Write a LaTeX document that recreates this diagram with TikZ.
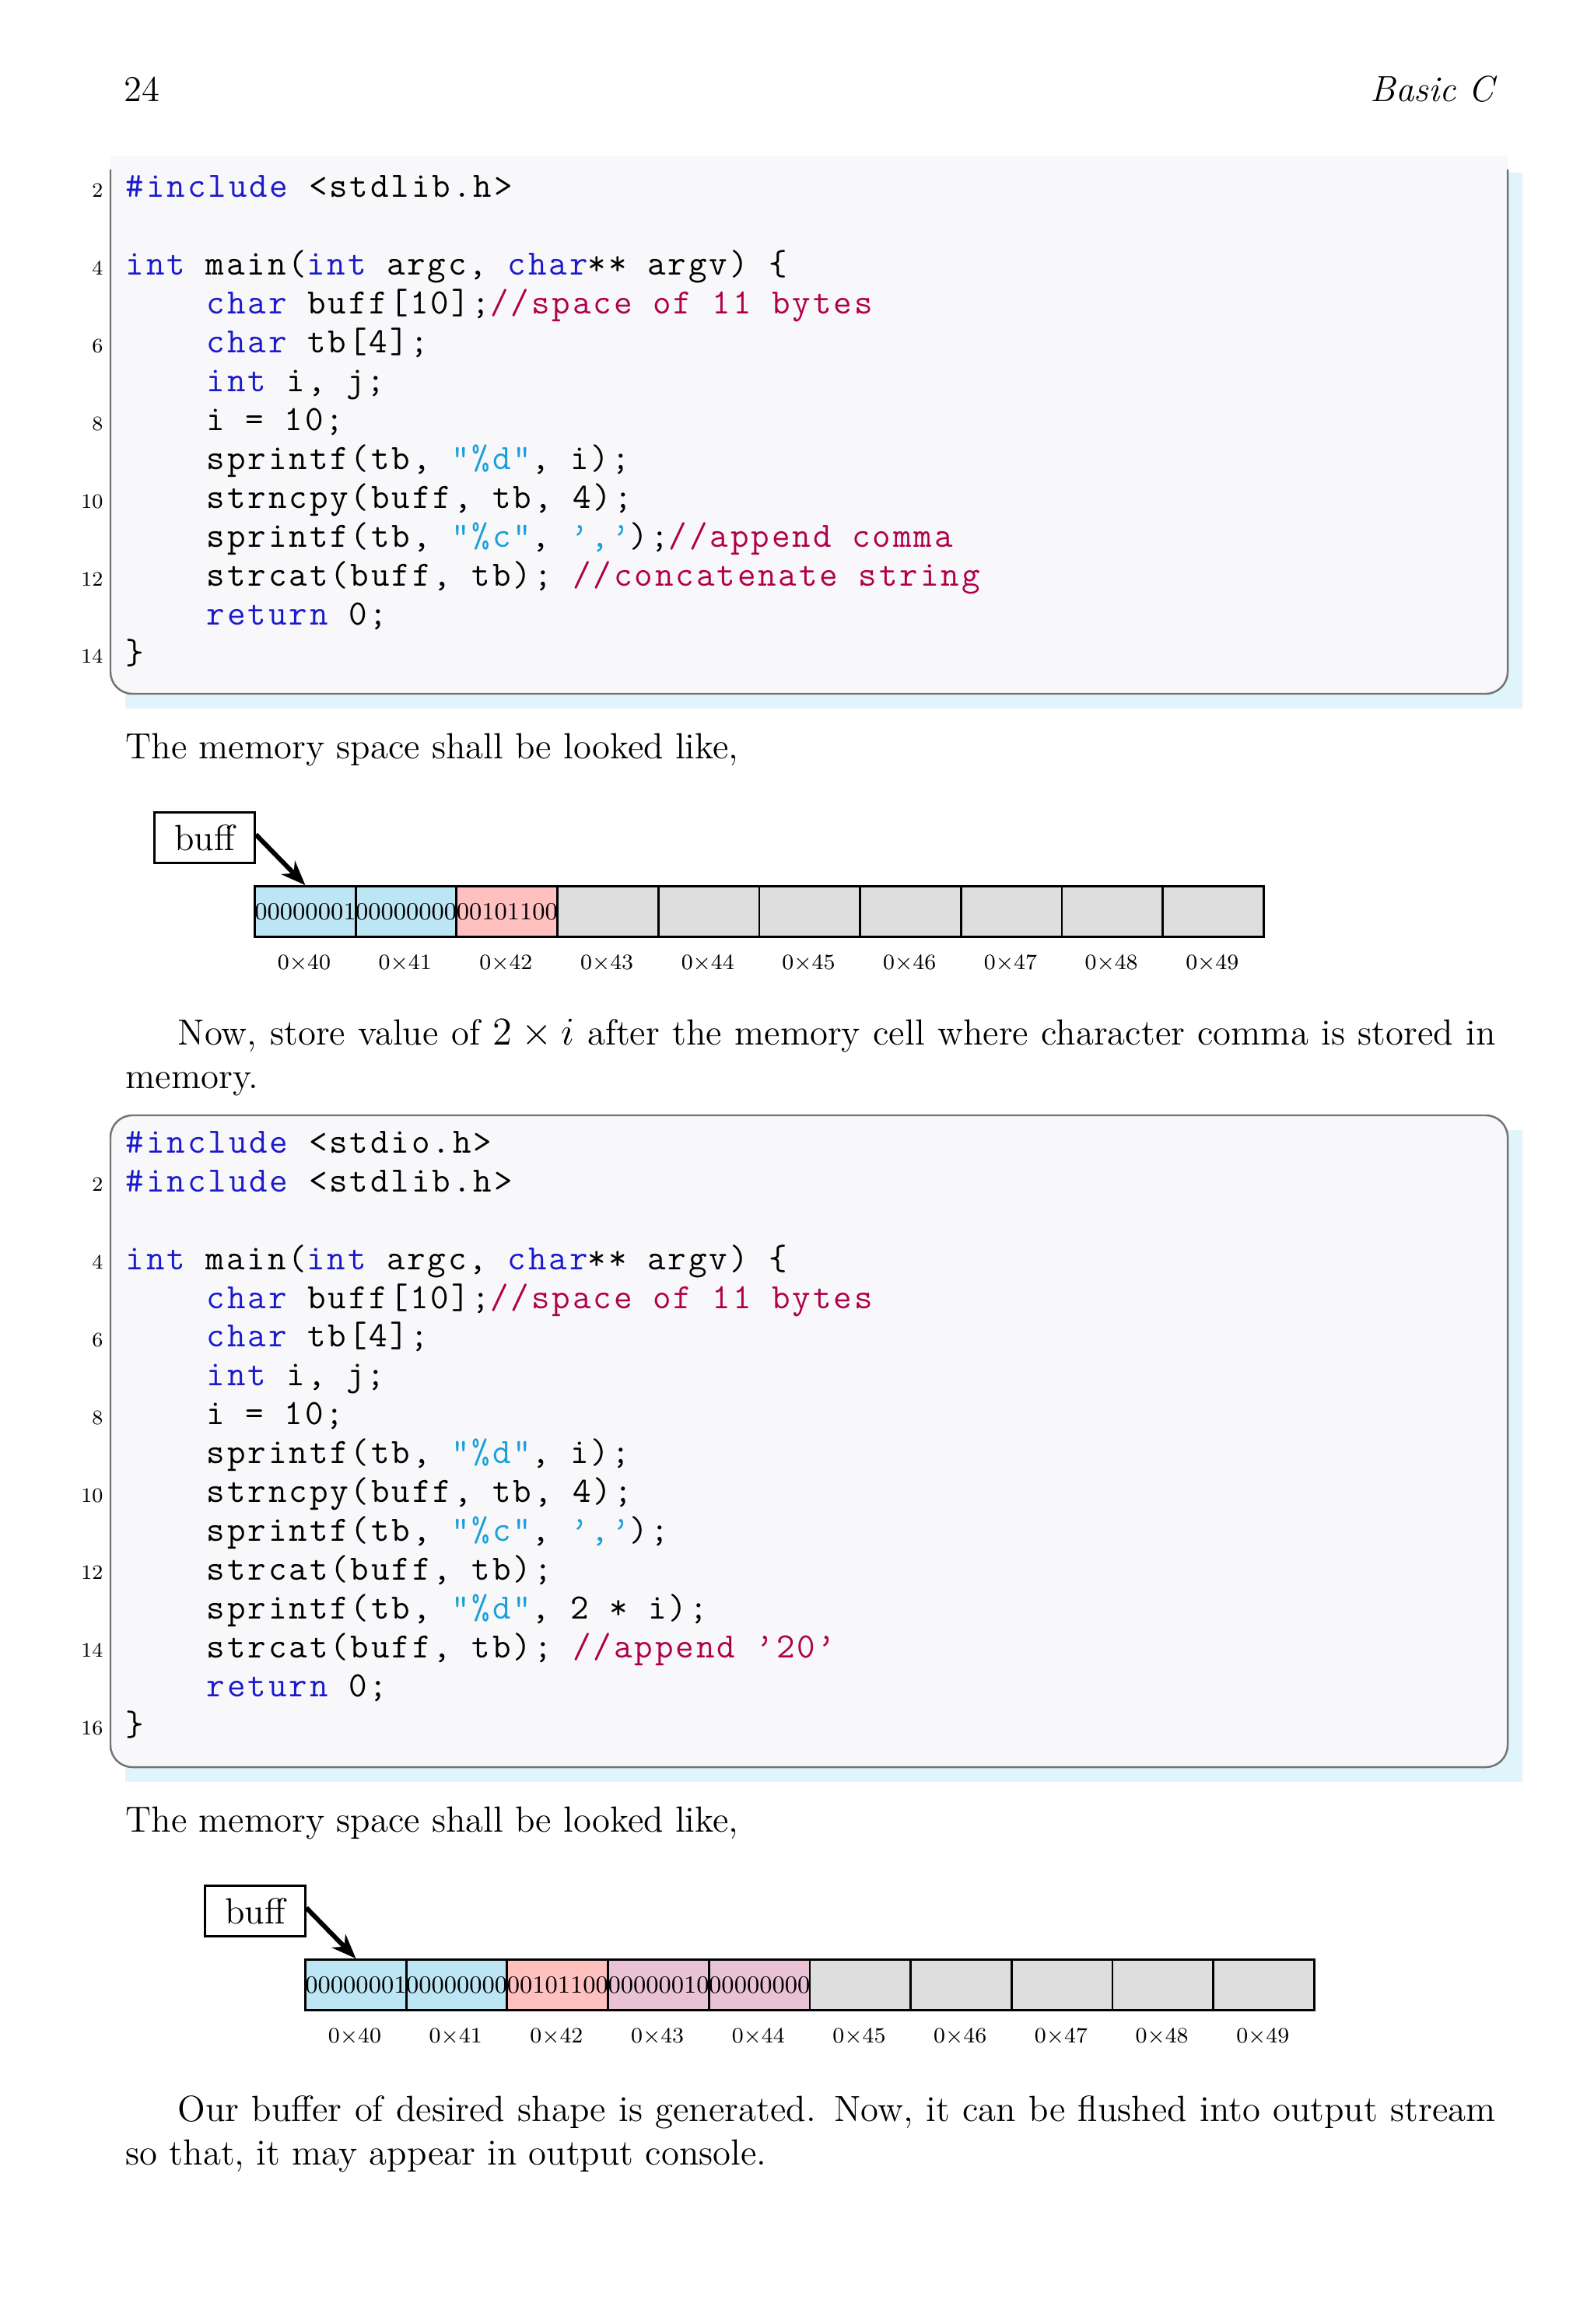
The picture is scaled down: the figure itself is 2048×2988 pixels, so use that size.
\documentclass[tikz,border=0pt]{standalone}
\usepackage{fontspec}
\setmonofont{Latin Modern Mono}[LetterSpace=6.4]
\usetikzlibrary{arrows.meta}
\definecolor{kwc}{HTML}{1A1ACC}
\definecolor{stc}{HTML}{1AA0D8}
\definecolor{cmc}{HTML}{B0004A}
\definecolor{boxbg}{HTML}{F8F7F9}
\definecolor{shadecol}{HTML}{DFF4FB}
\definecolor{cblue}{HTML}{BDE6F5}
\definecolor{cpink}{HTML}{FFC0C0}
\definecolor{cmauve}{HTML}{E9C3D5}
\definecolor{cgray}{HTML}{DEDEDE}
\newcommand\kw[1]{\textcolor{kwc}{#1}}
\newcommand\st[1]{\textcolor{stc}{#1}}
\newcommand\cm[1]{\textcolor{cmc}{#1}}
\tikzset{
  code/.style={anchor=base west,inner sep=0pt,font=\fontsize{13}{15}\ttfamily},
  lno/.style={anchor=base east,inner sep=0pt,font=\fontsize{7.5}{9}\selectfont},
  body/.style={anchor=base west,inner sep=0pt,font=\fontsize{13.3}{16}\selectfont},
  cell/.style={draw,line width=0.8pt,minimum width=1.297cm,minimum height=0.65cm,inner sep=0pt,anchor=west,font=\fontsize{9}{10}\selectfont},
  addr/.style={inner sep=0pt,font=\fontsize{8}{9}\selectfont},
  varbox/.style={draw,line width=0.8pt,minimum width=1.29cm,minimum height=0.65cm,inner sep=0pt,font=\fontsize{13.3}{16}\selectfont},
  ptr/.style={-{Stealth[length=9pt,width=7pt]},line width=1.7pt},
  boxline/.style={draw=black!55,line width=0.7pt}
}
\begin{document}
\begin{tikzpicture}[x=0.01cm,y=-0.01cm]
\useasboundingbox (0,0) rectangle (2048,2988);
% header
\node[body,anchor=base west] (pg) at (159,131) {24};
\node[body,anchor=base east] (hd) at (1921,131) {\itshape Basic C};
% code box 1
\fill[shadecol] (161,222) rectangle (1957,911);
\fill[boxbg,rounded corners=8] (142,200) -- (142,892) -- (1938,892) -- (1938,200) -- cycle;
\fill[boxbg] (142,200) rectangle (1938,218);
\draw[boxline,rounded corners=8] (142,218) -- (142,892) -- (1938,892) -- (1938,218);
\foreach \n/\t in {2,4,6,8,10,12,14}{\node[lno] (na\n) at (133,{254+(\n-2)*49.9}) {\t};}
\node[code] (a2) at (161,254) {\kw{\#include} <stdlib.h>};
\node[code] (a4) at (161,354) {\kw{int} main(\kw{int} argc, \kw{char}** argv) \{};
\node[code] (a5) at (265,404) {\kw{char} buff[10];\cm{//space of 11 bytes}};
\node[code] (a6) at (265,454) {\kw{char} tb[4];};
\node[code] (a7) at (265,504) {\kw{int} i, j;};
\node[code] (a8) at (265,553) {i = 10;};
\node[code] (a9) at (265,603) {sprintf(tb, \st{"\%d"}, i);};
\node[code] (a10) at (265,653) {strncpy(buff, tb, 4);};
\node[code] (a11) at (265,703) {sprintf(tb, \st{"\%c"}, \st{’,’});\cm{//append comma}};
\node[code] (a12) at (265,753) {strcat(buff, tb); \cm{//concatenate string}};
\node[code] (a13) at (265,803) {\kw{return} 0;};
\node[code] (a14) at (161,853) {\}};
% text 1
\node[body] (t1) at (161,975) {The memory space shall be looked like,};
% diagram 1
\node[varbox,anchor=north west] (b1) at (197,1043) {buff};
\foreach \i/\c/\v in {0/cblue/00000001,1/cblue/00000000,2/cpink/00101100,3/cgray/,4/cgray/,5/cgray/,6/cgray/,7/cgray/,8/cgray/,9/cgray/}{
  \node[cell,fill=\c] (m\i) at ({326+\i*129.7},1172) {\v};
  \node[addr] (ma\i) at ({391+\i*129.7},1237) {0×4\i};
}
\draw[ptr] (b1.north east) ++(0,30) coordinate (b1s) (b1s) -- (m0.north);
% paragraph
\node[body,anchor=base west,text width=17.6cm,align=justify] (p1) at (161,1343)
  {\hspace*{0.67cm}Now, store value of $2\times i$ after the memory cell where character comma is stored in memory.};
% code box 2
\fill[shadecol] (161,1453) rectangle (1957,2291);
\fill[boxbg,rounded corners=8] (142,1434) rectangle (1938,2272);
\draw[boxline,rounded corners=8] (142,1434) rectangle (1938,2272);
\foreach \n in {2,4,6,8,10,12,14,16}{\node[lno] (nb\n) at (133,{1482+(\n-1)*49.9}) {\n};}
\node[code] (b1l) at (161,1482) {\kw{\#include} <stdio.h>};
\node[code] (b2l) at (161,1532) {\kw{\#include} <stdlib.h>};
\node[code] (b4l) at (161,1632) {\kw{int} main(\kw{int} argc, \kw{char}** argv) \{};
\node[code] (b5l) at (265,1682) {\kw{char} buff[10];\cm{//space of 11 bytes}};
\node[code] (b6l) at (265,1731) {\kw{char} tb[4];};
\node[code] (b7l) at (265,1781) {\kw{int} i, j;};
\node[code] (b8l) at (265,1831) {i = 10;};
\node[code] (b9l) at (265,1881) {sprintf(tb, \st{"\%d"}, i);};
\node[code] (b10l) at (265,1931) {strncpy(buff, tb, 4);};
\node[code] (b11l) at (265,1981) {sprintf(tb, \st{"\%c"}, \st{’,’});};
\node[code] (b12l) at (265,2031) {strcat(buff, tb);};
\node[code] (b13l) at (265,2081) {sprintf(tb, \st{"\%d"}, 2 * i);};
\node[code] (b14l) at (265,2131) {strcat(buff, tb); \cm{//append ’20’}};
\node[code] (b15l) at (265,2181) {\kw{return} 0;};
\node[code] (b16l) at (161,2231) {\}};
% text 2
\node[body] (t2) at (161,2355) {The memory space shall be looked like,};
% diagram 2
\node[varbox,anchor=north west] (b2) at (262,2423) {buff};
\foreach \i/\c/\v in {0/cblue/00000001,1/cblue/00000000,2/cpink/00101100,3/cmauve/00000010,4/cmauve/00000000,5/cgray/,6/cgray/,7/cgray/,8/cgray/,9/cgray/}{
  \node[cell,fill=\c] (n\i) at ({391+\i*129.7},2552) {\v};
  \node[addr] (na\i) at ({456+\i*129.7},2617) {0×4\i};
}
\draw[ptr] (b2.north east) ++(0,30) coordinate (b2s) (b2s) -- (n0.north);
% final paragraph
\node[body,anchor=base west,text width=17.6cm,align=justify] (p2) at (161,2727)
  {\hspace*{0.67cm}Our buffer of desired shape is generated. Now, it can be flushed into output stream so that, it may appear in output console.};
\end{tikzpicture}
\end{document}
